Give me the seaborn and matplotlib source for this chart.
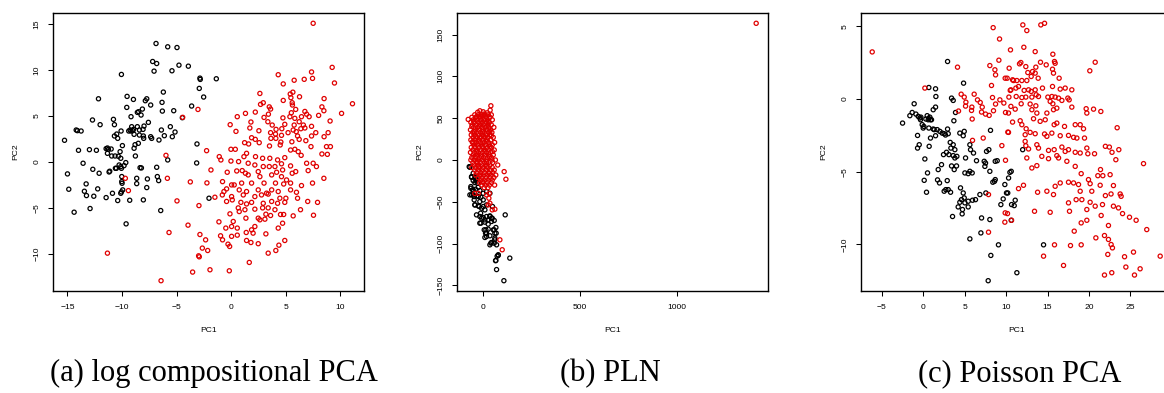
import numpy as np
import matplotlib
matplotlib.use("Agg")
import matplotlib.pyplot as plt
import seaborn as sns
import pandas as pd

# ---------------- data ----------------
# (a) log compositional PCA
a_black = [(-15.27,2.36),(-15.0,-1.3),(-14.88,-2.97),(-14.39,-5.47),(-14.2,3.48),(-14.09,3.41),(-13.75,3.37),
 (-13.99,1.27),(-13.57,-0.14),(-13.45,-3.19),(-13.29,-2.39),(-13.26,-3.66),(-12.99,1.34),(-12.93,-5.07),
 (-12.71,4.57),(-12.68,-0.8),(-12.59,-3.73),(-12.35,1.27),(-12.23,-2.93),(-12.16,6.88),(-12.1,-1.23),
 (-12.01,4.06),(-11.46,-3.88),(-11.46,1.45),(-11.34,1.52),(-11.34,0.94),(-11.25,1.38),(-11.19,-1.09),
 (-11.13,-1.01),(-11.0,1.41),(-10.95,0.65),(-10.88,-3.41),(-10.79,4.64),(-10.7,4.06),(-10.64,0.65),
 (-10.61,-0.69),(-10.52,-0.69),(-10.7,2.83),(-10.49,3.04),(-10.4,2.57),(-10.34,0.62),(-10.4,-4.2),
 (-10.27,-0.33),(-10.18,1.12),(-10.12,0.4),(-10.12,-0.51),(-10.06,-0.69),(-10.06,9.53),(-10.09,3.37),
 (-10.03,-1.59),(-10.03,-2.14),(-10.0,-2.32),(-9.97,1.78),(-9.94,-3.04),(-10.06,-3.26),(-10.12,-3.41),
 (-9.66,-0.07),(-9.82,-0.4),(-9.63,-6.74),(-9.54,7.14),(-9.57,5.94),(-9.39,3.37),(-9.27,3.48),(-9.18,3.37),
 (-9.3,-4.17),(-9.18,4.93),(-9.12,3.84),(-9.02,3.41),(-8.96,3.55),(-8.9,3.01),(-8.96,6.81),(-8.9,1.49),
 (-8.81,1.88),(-8.78,0.65),(-8.66,-2.36),(-8.66,-1.78),(-8.6,5.4),(-8.48,5.47),(-8.41,3.48),(-8.41,2.93),
 (-8.6,3.84),(-8.51,2.03),(-8.35,-0.62),(-8.23,-0.65),(-8.26,5.11),(-8.14,5.76),(-8.08,3.55),(-8.05,2.83),
 (-8.02,2.57),(-8.05,-4.13),(-7.99,3.91),(-7.87,6.67),(-7.74,6.88),(-7.68,-1.85),(-7.74,-2.79),(-7.59,4.31),
 (-7.38,6.2),(-7.38,2.75),(-7.29,2.57),(-7.2,10.94),(-7.07,9.89),(-6.89,12.9),(-6.83,10.72),(-6.83,-0.58),
 (-6.77,-1.59),(-6.65,-2.03),(-6.62,2.39),(-6.46,-5.29),(-6.4,3.48),(-6.34,6.49),(-6.22,7.61),(-6.31,5.54),
 (-6.13,2.86),(-5.82,12.54),(-5.82,0.22),(-5.58,3.84),(-5.43,9.93),(-5.4,2.75),(-5.27,5.58),(-5.15,3.26),
 (-4.97,12.46),(-4.79,10.54),(-4.48,4.82),(-3.93,10.43),(-3.63,6.09),(-3.14,1.96),(-3.17,-0.11),
 (-2.93,8.01),(-2.87,9.13),(-2.84,8.99),(-2.53,7.07),(-2.04,-3.95),(-1.37,9.06)]
a_red = [(-11.34,-9.93),(-9.7,-1.78),(-9.42,-3.12),(-5.98,0.72),(-5.85,-1.78),(-5.7,-7.68),(-4.97,-4.24),
 (-4.45,4.86),(-6.43,-12.93),(-3.96,-6.88),(-3.75,-2.17),(-3.54,-11.99),(-3.05,5.72),(-2.96,-4.75),
 (-2.87,-7.9),(-2.99,-10.22),(-2.93,-10.33),(-2.65,-9.38),
 (7.5,15.1),(9.24,10.3),(7.35,9.8),(4.3,9.5),(7.44,9.1),(6.68,9.0),(5.76,8.9),(9.45,8.6),(4.76,8.5),
 (5.64,7.6),(2.62,7.46),(5.4,7.4),(6.25,7.1),(5.46,7.0),(8.5,6.9),(4.76,6.7),(2.93,6.45),(2.68,6.27),
 (5.58,6.45),(11.1,6.34),(5.6,6.2),(3.48,6.0),(8.3,6.0),(3.6,5.76),(5.9,5.72),(6.74,5.5),(8.48,5.58),
 (2.2,5.43),(1.3,5.29),(3.4,5.2),(10.1,5.29),(5.5,5.36),(6.9,5.2),(8.0,5.07),(0.55,4.93),(3.0,4.85),
 (4.73,4.8),(5.37,4.93),(6.43,4.93),(7.13,4.93),(5.82,4.75),(9.05,4.46),(1.8,4.35),(3.35,4.38),(6.22,4.38),
 (-0.1,4.06),(3.75,4.02),(4.9,4.1),(5.76,4.02),(6.6,4.02),(7.35,3.88),(1.7,3.7),(4.63,3.62),(4.1,3.55),
 (5.67,3.48),(6.37,3.62),(6.74,3.7),(0.43,3.33),(2.53,3.4),(3.6,3.19),(4.05,3.04),(5.2,3.19),(5.95,3.3),
 (7.74,3.19),(8.87,3.19),(4.6,2.9),(6.07,2.83),(7.35,2.83),(8.5,2.75),(1.86,2.64),(2.2,2.46),(1.59,1.96),
 (3.63,2.57),(4.08,2.57),(5.55,2.2),(4.54,2.17),(6.83,2.32),(6.22,2.46),(1.22,2.1),(2.56,2.1),(3.5,1.74),
 (4.48,1.85),(8.72,1.67),(9.08,1.67),(7.3,1.67),(8.3,0.87),(8.8,0.83),(0.37,1.38),(-0.03,1.38),(1.4,0.94),
 (5.43,1.3),(5.82,1.38),(6.13,1.12),(6.4,0.72),(-1.1,0.58),(-0.95,0.22),(-0.03,0.1),(0.67,0.04),(1.16,0.58),
 (2.22,0.58),(2.87,0.4),(3.53,0.4),(4.9,0.47),(4.24,0.22),(1.55,-0.14),(2.16,-0.33),(2.93,-0.5),(3.48,-0.5),
 (4.0,-0.5),(4.6,-0.2),(5.43,-0.43),(6.9,-0.14),(7.5,-0.14),(7.8,-0.5),(-1.86,-0.87),(-0.37,-1.12),
 (0.5,-0.98),(1.0,-0.94),(1.3,-1.23),(2.47,-1.05),(4.15,-1.12),(4.7,-0.87),(5.58,-1.23),(5.9,-1.05),
 (7.04,-0.94),(1.55,-1.41),(2.62,-1.6),(3.7,-1.41),(4.6,-1.6),(5.06,-1.96),(5.43,-2.3),(6.43,-2.57),
 (7.44,-2.3),(8.48,-1.78),(-0.8,-2.14),(0.03,-2.5),(0.27,-2.5),(0.95,-2.3),(1.86,-2.3),(3.0,-2.3),
 (4.05,-2.3),(4.8,-2.4),(-0.67,-3.22),(-0.43,-2.93),(0.73,-3.04),(1.4,-3.22),(2.47,-3.04),(3.23,-3.4),
 (3.7,-3.04),(4.3,-3.22),(5.43,-3.04),(5.97,-3.3),(-0.82,-3.59),(-1.5,-3.84),(0.03,-3.77),(1.1,-3.59),
 (2.16,-3.77),(2.77,-3.59),(3.38,-3.5),(4.45,-3.95),(5.0,-3.95),(6.07,-3.95),(-0.43,-4.3),(0.09,-4.13),
 (0.88,-4.4),(1.4,-4.57),(1.86,-4.4),(2.93,-4.5),(3.7,-4.3),(4.24,-4.5),(4.9,-4.4),(7.0,-4.3),(7.9,-4.4),
 (0.64,-5.0),(1.25,-5.2),(2.16,-5.14),(2.87,-5.0),(3.38,-5.0),(4.0,-5.2),(6.34,-5.2),(-0.12,-5.65),
 (0.73,-5.4),(1.34,-6.12),(2.47,-6.12),(3.17,-5.69),(3.6,-5.83),(4.51,-5.72),(4.8,-5.72),(5.67,-5.87),
 (7.53,-5.8),(-1.13,-6.52),(0.18,-6.48),(2.62,-6.3),(3.08,-6.23),(4.7,-6.67),(-0.5,-7.2),(0.03,-7.03),
 (0.55,-7.2),(1.86,-7.39),(2.16,-7.03),(4.3,-7.2),(-0.98,-8.04),(0.03,-8.1),(0.55,-7.97),(1.37,-7.68),
 (2.0,-7.75),(3.17,-7.83),(-0.8,-8.48),(1.4,-8.55),(1.8,-8.77),(2.47,-8.9),(4.9,-8.55),(-0.3,-8.95),
 (-0.15,-9.2),(3.38,-9.93),(4.08,-9.64),(4.36,-9.06),(1.65,-10.94),(-1.95,-11.74),(-0.18,-11.85),
 (-2.16,-9.64),(-2.26,1.23),(-2.23,-2.28),(-2.35,-8.48)]

# (b) PLN
b_black = [(-68.5,-8),(-56.5,-19.9),(-60,-31.8),(-51,-35.8),(-48,-41.7),(-39,-53.7),(-34,-23.9),(-27,-27.8),
 (-22,-43.7),(-14,-49.7),(-10,-63.6),(-14,-75.5),(-5,-69.6),(3.4,-55.6),(12,-71.6),(17,-83.5),(20.5,-87.5),
 (12,-92.6),(29,-71.6),(37.7,-67.6),(46,-69.6),(51,-55.6),(55,-83.5),(63,-87.5),(68.5,-80.7),(63,-95.4),
 (72,-101.4),(37.7,-101.4),(46,-98.6),(80.5,-114),(75,-115),(68.5,-120),(72,-131),(109.6,-144.3),
 (116.4,-65.6),(140,-117.3),(3.4,-39.8),(20.5,-37.8),(37.7,-39.8),(-31,-65.6),(-17,-55.6),(-43,-47.7),
 (-65,-41.7),(-65,-8.7),(-56.5,-20.7),(-48,-24.6),(-39.4,-27),(-30.8,-23.9),(-60,-33.8),(-48,-35.8),
 (-36,-35),(-22,-32.6),(-13.7,-36.6),(-56.5,-41.7),(-43,-43.7),(-29,-42.9),(-8.6,-44.5),(3.4,-47.7),
 (-39.4,-53.7),(-22,-54.9),(-5,-57.6),(12,-59.6),(20.5,-53.7),(-13.7,-67.6),(3.4,-68.8),(20.5,-67.6),
 (37.7,-66.8),(49.7,-69.6),(-8.6,-75.5),(12,-74.3),(29,-76.7),(46.2,-73.5),(59.9,-72.3),(8.6,-83.5),
 (15.4,-87.5),(29,-82.7),(59.9,-83.5),(70,-87.5),(20.5,-91.4),(37.7,-90.6),(63.3,-93.4),(42.8,-99.4),
 (59.9,-99.4),(80.5,-113.3),(66.8,-120.4),(-48,-15.9),(-39.4,-20.7),(-27.4,-21.9)]
b_red = [(1405.6,163.4),(42.8,64.8),(39,59.6),(-13.7,58.8),(3.4,57.6),(24,56.4),(-73.6,48.5),(-25,57),(10,55),
 (-40,54),(-22,54),(-5,54),(12,54),(30,54),(45,54),
 (-55,51),(-33,51),(-15,51),(2,51),(20,51),(38,51),
 (-48,48),(-28,48),(-8,48),(8,48),(25,48),(50,48),
 (-60,45),(-40,45),(-20,45),(0,45),(18,45),(35,45),
 (-52,42),(-32,42),(-12,42),(5,42),(28,42),(45,42),
 (-45,39),(-25,39),(-3,39),(14,39),(32,39),(58,39),
 (-62,36),(-38,36),(-18,36),(2,36),(22,36),(40,36),
 (-50,33),(-30,33),(-10,33),(10,33),(30,33),(48,33),
 (-58,30),(-42,30),(-22,30),(-2,30),(18,30),(36,30),
 (-48,27),(-28,27),(-8,27),(12,27),(28,27),(55,27),
 (-60,24),(-38,24),(-18,24),(4,24),(22,24),(42,24),
 (-52,21),(-32,21),(-12,21),(8,21),(30,21),(62,21),
 (-45,18),(-25,18),(-5,18),(15,18),(35,18),(50,18),
 (-58,15),(-38,15),(-18,15),(2,15),(24,15),(45,15),
 (-50,12),(-30,12),(-10,12),(10,12),(30,12),(60,12),
 (-62,9),(-42,9),(-22,9),(0,9),(20,9),(40,9),
 (-48,6),(-28,6),(-8,6),(12,6),(34,6),(55,6),
 (-55,3),(-35,3),(-15,3),(5,3),(25,3),(45,3),
 (-60,0),(-40,0),(-20,0),(0,0),(22,0),(48,0),(66,0),
 (-50,-3),(-30,-3),(-10,-3),(10,-3),(32,-3),(52,-3),
 (-45,-6),(-25,-6),(-5,-6),(15,-6),(38,-6),(78,-6),
 (-55,-9),(-35,-9),(-15,-9),(5,-9),(28,-9),(50,-9),
 (-40,-12),(-20,-12),(0,-12),(20,-12),(42,-12),(60,-12),
 (-30,-15),(-10,-15),(10,-15),(30,-15),(52,-15),(111,-13.9),
 (-35,-18),(-15,-18),(5,-18),(25,-18),(45,-18),(68,-18),
 (-22,-21),(-2,-21),(18,-21),(38,-21),(58,-21),
 (-10,-24),(10,-24),(30,-24),(50,-24),(120,-23),
 (-15,-27),(5,-27),(25,-27),(45,-27),
 (-5,-30),(15,-30),(35,-30),(62,-30),
 (8,-33),(28,-33),(-22,-39.8),(20.5,-41.7),(35,-40),(32.5,-45.7),(-40,-40),(37.7,-51.7),(29,-53.7),
 (63.3,-58.8),(49.7,-59.6),(89,-95.4),(101,-107.3),
 (-30,52),(-10,52),(15,52),(-45,46),(-8,44),(28,46),(-55,40),(-18,40),(22,40),(-42,34),(0,34),(38,34),
 (-35,28),(5,28),(45,29),(-50,22),(-22,22),(18,22),(-40,16),(-2,16),(38,16),(-30,10),(12,10),(50,10),
 (-38,4),(-5,4),(35,4),(-28,-2),(20,-2),(-20,-8),(20,-8),(-10,-18),(35,-16),(0,-26)]

# (c) Poisson PCA
c_black = [(-2.49,-1.65),(-1.61,-1.14),(-1.33,-0.92),(-1.09,-0.32),(-0.88,-1.03),(-0.6,-1.19),(-0.4,-1.3),
 (-0.32,-1.42),(-0.28,-1.24),(-0.12,-1.76),(0,-1.99),(0.08,-1.88),(0.32,-1.37),(0.48,-1.14),(0.6,-1.42),
 (0.68,-1.33),(0.8,-1.24),(0.88,-1.42),(-0.68,-2.5),(-0.48,-3.14),(-0.68,-3.37),(0.2,-4.12),(0.52,-5.08),
 (0.12,-5.59),(0.4,-6.41),(0.68,0.8),(1.49,0.71),(1.53,0.18),(1.49,-0.55),(1.21,-0.73),(1.0,-1.42),
 (0.68,-1.99),(0.88,-2.68),(0.72,-3.25),(1.21,-2.06),(1.33,-2.1),(1.49,-2.52),(1.69,-2.1),(2.01,-2.22),
 (2.29,-2.34),(2.53,-2.38),(2.69,-2.47),(2.94,-2.06),(3.02,-2.38),(1.73,-5.56),(1.97,-5.77),(1.81,-4.85),
 (2.21,-4.51),(2.53,-6.34),(2.73,-6.23),(2.9,-5.61),(3.02,-6.23),(3.3,-6.41),(3.54,-8.08),(3.26,-2.98),
 (3.34,-3.37),(3.62,-3.14),(3.82,-3.48),(3.1,-3.82),(2.45,-3.82),(2.81,-3.66),(3.62,-3.89),(3.82,-4.05),
 (4.06,-3.94),(3.42,-4.6),(3.74,-4.85),(4.02,-4.6),(2.94,2.59),(3.42,0.07),(3.62,-0.09),(3.9,-0.92),
 (3.7,-1.49),(4.87,1.1),(4.42,-2.34),(4.83,-2.52),(4.95,-2.22),(5.11,-4.05),(5.63,-3.14),(5.71,-3.48),
 (6.07,-3.71),(4.5,-6.11),(4.83,-6.46),(4.95,-6.8),(4.62,-6.92),(4.42,-7.1),(4.22,-7.42),(4.74,-7.6),
 (5.03,-7.14),(5.43,-7.03),(5.95,-6.96),(6.31,-6.92),(5.43,-7.42),(4.7,-7.9),(5.03,-5.08),(5.43,-5.13),
 (5.63,-4.97),(5.91,-5.08),(6.43,-4.24),(6.84,-6.57),(7.04,-8.18),(6.96,-9.21),(5.63,-9.62),(7.36,-4.28),
 (7.52,-4.4),(7.44,-4.63),(7.64,-3.6),(7.92,-3.48),(8.12,-2.15),(8.69,-4.28),(8.93,-4.24),(8.69,-5.54),
 (8.4,-5.72),(8.6,-5.66),(8.04,-8.29),(8.16,-10.76),(9.08,-10.03),(7.84,-12.5),(7.56,-6.46),(8.04,-4.97),
 (9.85,-5.88),(10.05,-6.46),(9.65,-6.87),(9.37,-7.26),(10.66,-7.26),(10.46,-5.04),(12.0,-3.48),
 (10.62,-4.97),(10.3,-5.43),(10.2,-6.46),(11.1,-6.96),(10.98,-7.33),(10.62,-8.34),(14.52,-10.03),
 (11.3,-11.95)]
c_red = [(-6.15,3.25),(0.2,0.76),(4.14,2.2),(4.26,-0.82),(4.58,0.34),(4.95,0.14),(5.15,-0.21),(5.11,-0.48),
 (5.87,-0.55),(5.83,-0.78),(5.91,-1.37),(6.15,0.34),(6.55,-0.05),(6.88,-0.23),(7.12,-0.55),(7.04,-0.89),
 (7.52,-1.03),(7.96,-1.12),(8.48,-0.8),(8.73,-0.34),(9.25,-0.05),(9.73,-0.27),(9.93,-0.92),(10.34,0.14),
 (10.58,-0.5),(7.24,-2.68),(5.95,-2.84),(9.49,-3.2),(10.29,-2.29),(9.93,-4.21),(7.88,-6.57),(7.88,-9.16),
 (10.17,-7.88),(9.85,-8.47),(10.66,-8.34),(8.44,4.92),(9.21,4.14),(10.53,3.39),(8.04,2.31),(8.65,2.02),
 (8.73,1.67),(9.13,2.68),(10.13,1.44),(10.78,1.33),(8.24,0.94),(8.36,0.11),(10.5,0.6),
 (12.02,5.11),(12.5,4.72),(14.19,5.11),(14.64,5.22),(12.14,3.57),(13.51,3.27),(15.64,3.09),(15.92,2.47),
 (15.84,2.59),(20.75,2.54),(20.1,1.95),(11.78,2.52),(11.62,2.43),(13.59,2.2),(14.15,2.54),(14.84,2.36),
 (10.37,2.13),(12.38,2.24),(12.62,1.83),(13.19,1.9),(13.51,1.79),(15.72,1.79),(15.6,2.06),(9.89,1.44),
 (10.9,1.28),(11.3,1.28),(11.9,1.28),(12.5,1.28),(13.03,1.56),(13.87,1.44),(16.4,1.44),(10.58,0.64),
 (11.18,0.76),(11.5,0.87),(12.18,0.6),(12.71,0.64),(13.03,0.53),(13.51,0.64),(13.63,0.3),(14.39,0.76),
 (15.6,0.87),(16.53,0.69),(17.13,0.76),(17.93,0.64),(11.22,0.18),(11.9,0.11),(12.38,0.14),(13.11,0.14),
 (13.91,0.18),(15.04,0.14),(15.52,0.18),(15.92,0.14),(16.33,0.07),(17.45,0.07),(11.82,-0.32),(12.9,-0.34),
 (13.59,-0.46),(15.32,-0.16),(15.64,-0.32),(16.73,-0.09),(17.61,-0.05),(10.29,-0.96),(11.1,-0.69),
 (13.11,-0.73),(13.71,-0.96),(14.92,-0.96),(15.72,-0.73),(16.12,-0.62),(17.93,-0.55),(19.66,-0.66),
 (19.74,-0.96),(20.55,-0.69),(21.43,-0.85),(10.78,-1.58),(11.7,-1.49),(11.9,-1.76),(12.42,-2.04),
 (13.31,-1.35),(14.11,-1.53),(14.72,-1.42),(15.8,-1.76),(16.12,-1.65),(17.05,-1.88),(18.34,-1.76),
 (18.94,-1.76),(19.34,-2.04),(23.4,-1.97),(10.21,-2.27),(12.3,-2.45),(12.9,-2.29),(13.51,-2.38),
 (14.64,-2.4),(14.92,-2.56),(15.52,-2.34),(16.53,-2.52),(17.53,-2.5),(18.14,-2.63),(18.54,-2.68),
 (19.46,-2.68),(12.3,-2.91),(12.38,-3.21),(12.71,-3.43),(13.71,-3.14),(13.91,-3.37),(15.12,-3.53),
 (15.8,-3.48),(16.12,-3.89),(16.73,-3.3),(17.13,-3.6),(17.53,-3.48),(18.34,-3.66),(18.94,-3.71),
 (19.74,-3.37),(19.86,-3.76),(20.67,-3.76),(21.98,-3.25),(22.46,-3.3),(22.78,-3.66),(23.24,-4.17),
 (23.6,-3.48),(26.58,-4.44),(12.5,-4.05),(13.11,-4.74),(13.71,-4.58),(14.31,-3.94),(15.12,-4.1),
 (16.33,-4.05),(17.33,-4.28),(18.34,-4.63),(19.06,-5.13),(19.94,-5.54),(21.07,-5.27),(21.39,-4.85),
 (21.67,-5.27),(22.55,-5.2),(21.35,-5.93),(22.95,-5.95),(11.5,-6.16),(12.1,-5.93),(13.8,-6.41),
 (14.92,-6.34),(15.72,-6.57),(15.92,-6.0),(16.53,-5.77),(17.53,-5.72),(18.14,-5.77),(18.74,-5.88),
 (18.94,-6.34),(20.14,-5.82),(20.34,-6.34),(21.98,-6.64),(22.66,-6.53),(23.76,-6.53),(23.88,-6.69),
 (13.43,-7.72),(15.32,-7.79),(17.53,-7.14),(17.65,-7.72),(18.45,-6.92),(19.14,-6.92),(19.74,-7.6),
 (20.14,-7.1),(20.75,-7.37),(21.63,-7.26),(22.95,-7.37),(23.56,-7.49),(24.05,-7.88),(24.89,-8.13),
 (25.69,-8.34),(19.06,-8.52),(19.74,-8.34),(21.47,-8.01),(22.35,-8.7),(9.89,-7.83),(18.22,-9.09),
 (20.83,-9.55),(21.87,-9.39),(22.35,-9.66),(22.67,-10.01),(22.83,-10.24),(26.97,-8.98),(14.52,-10.81),
 (15.84,-10.03),(17.77,-10.08),(19.06,-10.03),(16.93,-11.45),(22.27,-10.69),(24.29,-10.85),
 (25.37,-10.53),(28.59,-10.81),(24.45,-11.56),(26.17,-11.68),(21.87,-12.11),(22.75,-11.95),(25.49,-12.11)]

a_xticks = [-15, -10, -5, 0, 5, 10]
a_yticks = [-10, -5, 0, 5, 10, 15]
b_xticks = [0, 500, 1000]
b_yticks = [-150, -100, -50, 0, 50, 100, 150]
c_xticks = [-5, 0, 5, 10, 15, 20, 25]
c_yticks = [-10, -5, 0, 5]
captions = ["(a) log compositional PCA", "(b) PLN", "(c) Poisson PCA"]

# ---------------- styling ----------------
sns.set_theme(style="white")
plt.rcParams["font.family"] = ["Liberation Sans", "DejaVu Sans"]
RED = "#e00000"

W, H = 1164, 393
fig = plt.figure(figsize=(W / 100, H / 100), dpi=100)

box_w, box_h = 311, 278
box_top = 13
lefts = [53, 456.7, 860.7]
cap_x = [214, 610, 1020]


def panel(ax, black, red, xticks, yticks):
    for pts, col in ((black, "black"), (red, RED)):
        df = pd.DataFrame(pts, columns=["PC1", "PC2"])
        sns.scatterplot(data=df, x="PC1", y="PC2", ax=ax, s=9, marker="o",
                        linewidth=0.9, legend=False)
        coll = ax.collections[-1]
        coll.set_facecolor("none")
        coll.set_edgecolor(col)
        coll.set_linewidth(0.9)
    allp = np.array(black + red)
    lo, hi = allp.min(axis=0), allp.max(axis=0)
    pad = 0.04 * (hi - lo)
    ax.set_xlim(lo[0] - pad[0], hi[0] + pad[0])
    ax.set_ylim(lo[1] - pad[1], hi[1] + pad[1])
    ax.set_xticks(xticks)
    ax.set_yticks(yticks)
    ax.tick_params(direction="out", length=3.6, width=0.75, labelsize=6.1,
                   colors="black", bottom=True, left=True)
    ax.tick_params(axis="x", pad=8.6)
    ax.tick_params(axis="y", pad=7.8)
    for lab in ax.get_yticklabels():
        lab.set_rotation(90)
        lab.set_va("center")
        lab.set_ha("center")
    for lab in ax.get_xticklabels():
        lab.set_va("center")
    ax.set_xlabel("PC1", fontsize=6.1, color="black")
    ax.set_ylabel("PC2", fontsize=6.1, color="black")
    ax.xaxis.set_label_coords(0.5, -39 / box_h)
    ax.xaxis.label.set_va("center")
    ax.yaxis.set_label_coords(-37 / box_w, 0.5)
    ax.yaxis.label.set_va("center")
    for sp in ax.spines.values():
        sp.set_visible(True)
        sp.set_linewidth(1.0)
        sp.set_color("black")
    ax.grid(False)


data = [(a_black, a_red, a_xticks, a_yticks),
        (b_black, b_red, b_xticks, b_yticks),
        (c_black, c_red, c_xticks, c_yticks)]

for i, (blk, rd, xt, yt) in enumerate(data):
    ax = fig.add_axes([lefts[i] / W, (H - box_top - box_h) / H, box_w / W, box_h / H])
    panel(ax, blk, rd, xt, yt)
    fig.text(cap_x[i] / W, (H - 381) / H, captions[i], family=["Liberation Serif", "DejaVu Serif"],
             fontsize=22, ha="center", va="baseline", color="black")

fig.savefig("out.png", dpi=100)
